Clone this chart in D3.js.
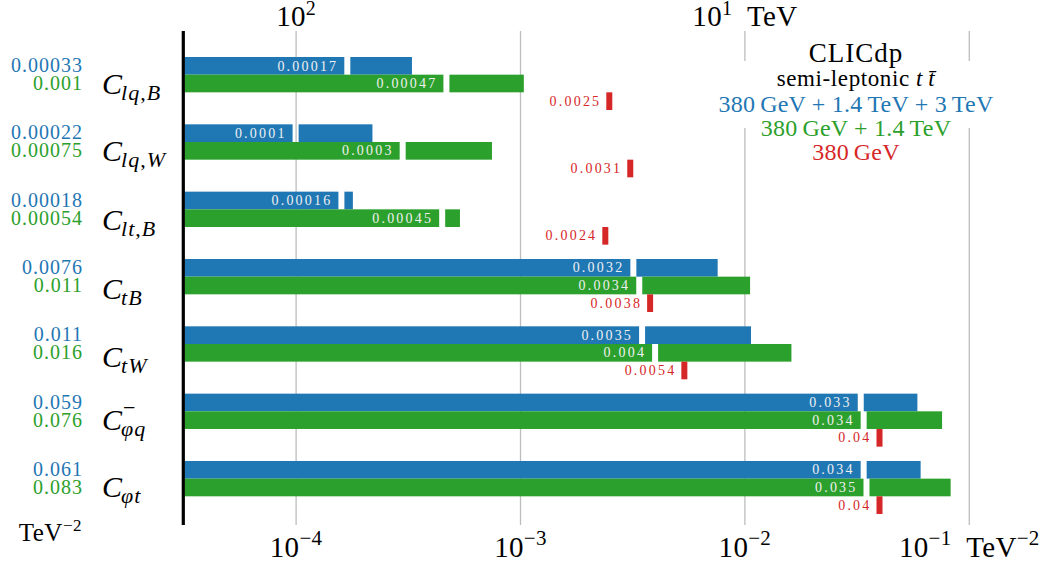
<!DOCTYPE html>
<html><head><meta charset="utf-8">
<script src="https://cdn.jsdelivr.net/npm/d3@7"></script>
<style>
body{margin:0;background:#fff}
svg{display:block}
svg text{font-family:"Liberation Serif","Times New Roman",serif}
</style>
</head><body>
<svg id="c" width="1050" height="567" font-family="'Liberation Serif', 'Times New Roman', serif"></svg>
<script>
// ---------- data ----------
const categories = ["lq,B", "lq,W", "lt,B", "tB", "tW", "φq", "φt"];
const categorySup = ["", "", "", "", "", "−", ""];
// 380 GeV + 1.4 TeV + 3 TeV (blue): full reach and inner mark
const blueFull  = [0.00033, 0.00022, 0.00018, 0.0076, 0.0107, 0.059, 0.061];
const blueInner = [0.00017, 0.0001, 0.00016, 0.0032, 0.0035, 0.033, 0.034];
// 380 GeV + 1.4 TeV (green)
const greenFull  = [0.00104, 0.00075, 0.00054, 0.0106, 0.0162, 0.076, 0.083];
const greenInner = [0.00047, 0.0003, 0.00045, 0.0034, 0.004, 0.034, 0.035];
// 380 GeV (red)
const redValues = [0.0025, 0.0031, 0.0024, 0.0038, 0.0054, 0.04, 0.04];
const bottomTicks = [1e-4, 1e-3, 1e-2, 1e-1];
const bottomTickExp = ["−4", "−3", "−2", "−1"];
const topTicks = [100, 10];
const topTickExp = ["2", "1"];
const legendLines = ["380\u2009GeV + 1.4\u2009TeV + 3\u2009TeV", "380\u2009GeV + 1.4\u2009TeV", "380\u2009GeV"];

// ---------- style ----------
const colors = {blue: "#1f77b4", green: "#2ca02c", red: "#d62728"};
const fmt = d3.format(".2~r");

const svg = d3.select("#c");
const x = d3.scaleLog().domain([1e-4, 1e-1]).range([295.6, 968.8]);
const lam = d3.scaleLog().domain([100, 10]).range([x(1e-4), x(1e-2)]);
const y = d3.scaleBand().domain(categories).range([57, 57 + 7 * 67.33]);
const sub = d3.scaleBand().domain(["b", "g", "r"]).range([0, 53]);
const xLeft = 184.5;
const plotTop = 31, plotBottom = 525;
const gapHalf = 3;

// gridlines
svg.append("g")
  .attr("transform", `translate(0,${plotBottom})`)
  .call(d3.axisBottom(x).tickValues(bottomTicks).tickSize(-(plotBottom - plotTop)).tickFormat(""))
  .call(g => g.select(".domain").remove())
  .call(g => g.selectAll("line").attr("stroke", "#bdbdbd").attr("stroke-width", 1.3));

// legend white box
svg.append("rect").attr("x", 700).attr("y", 61).attr("width", 310).attr("height", 67).attr("fill", "#fff");

// bottom tick labels
svg.append("g")
  .attr("transform", `translate(0,${plotBottom})`)
  .call(d3.axisBottom(x).tickValues(bottomTicks).tickSize(0).tickFormat(""))
  .call(g => g.select(".domain").remove())
  .call(g => g.selectAll(".tick").each(function(d, i) {
    const t = d3.select(this).append("text").attr("y", 32).attr("fill", "#000")
      .attr("text-anchor", "middle").style("font-size", "29px").style("letter-spacing", "0.3px");
    t.append("tspan").text("10");
    t.append("tspan").attr("dy", -12).style("font-size", "21px").text(bottomTickExp[i]);
    if (i === bottomTicks.length - 1) {
      t.append("tspan").attr("dy", 12).text("\u2002TeV");
      t.append("tspan").attr("dy", -12).style("font-size", "21px").text("−2");
    }
  }));

// top tick labels
svg.append("g")
  .attr("transform", `translate(0,${plotTop})`)
  .call(d3.axisTop(lam).tickValues(topTicks).tickSize(0).tickFormat(""))
  .call(g => g.select(".domain").remove())
  .call(g => g.selectAll(".tick").each(function(d, i) {
    const t = d3.select(this).append("text").attr("y", -5).attr("fill", "#000")
      .attr("text-anchor", "middle").style("font-size", "29px").style("letter-spacing", "0.3px");
    t.append("tspan").text("10");
    t.append("tspan").attr("dy", -11).style("font-size", "20px").text(topTickExp[i]);
    if (i === topTicks.length - 1) {
      t.append("tspan").attr("dy", 11).text("\u2002TeV");
    }
  }));

// bars
function drawBar(vals, inner, key, color) {
  const g = svg.append("g");
  categories.forEach((c, i) => {
    const y0 = y(c) + sub(key), h = sub.bandwidth();
    const xi = x(inner[i]);
    g.append("rect").attr("x", xLeft).attr("y", y0).attr("width", xi - gapHalf - xLeft).attr("height", h).attr("fill", color);
    g.append("rect").attr("x", xi + gapHalf).attr("y", y0).attr("width", Math.max(0, x(vals[i]) - xi - gapHalf)).attr("height", h).attr("fill", color);
    g.append("text").attr("x", xi - gapHalf - 6).attr("y", y0 + 13.5).attr("text-anchor", "end")
      .attr("fill", "#f0f0f0").style("font-size", "14px").style("letter-spacing", "2.2px").text(fmt(inner[i]));
  });
}
drawBar(blueFull, blueInner, "b", colors.blue);
drawBar(greenFull, greenInner, "g", colors.green);

const rg = svg.append("g");
categories.forEach((c, i) => {
  const y0 = y(c) + sub("r"), h = sub.bandwidth();
  const xv = x(redValues[i]);
  rg.append("rect").attr("x", xv - 3).attr("y", y0).attr("width", 6).attr("height", h).attr("fill", colors.red);
  rg.append("text").attr("x", xv - 3 - 5).attr("y", y0 + 13.5).attr("text-anchor", "end")
    .attr("fill", colors.red).style("font-size", "14px").style("letter-spacing", "2.2px").text(fmt(redValues[i]));
});

// left axis line
svg.append("line").attr("x1", 183.3).attr("x2", 183.3).attr("y1", plotTop).attr("y2", plotBottom)
  .attr("stroke", "#000").attr("stroke-width", 3.2);

// left value labels
categories.forEach((c, i) => {
  svg.append("text").attr("x", 83).attr("y", y(c) + 15).attr("text-anchor", "end")
    .attr("fill", colors.blue).style("font-size", "20px").style("letter-spacing", "1px").text(fmt(blueFull[i]));
  svg.append("text").attr("x", 83).attr("y", y(c) + 33).attr("text-anchor", "end")
    .attr("fill", colors.green).style("font-size", "20px").style("letter-spacing", "1px").text(fmt(greenFull[i]));
});

// category labels C_{...}: vertically centred on their ink box like the original
categories.forEach((c, i) => {
  const hasDesc = /[qφpgy]/.test(c);
  const hasComma = c.includes(",");
  const base = y(c) + 31 + (hasDesc ? 5.5 : (hasComma ? 7.5 : 9.5));
  const ct = svg.append("text").attr("x", 102).attr("y", base).style("font-size", "30px")
    .style("font-style", "italic").text("C");
  const w = ct.node().getComputedTextLength();
  const st = svg.append("text").attr("x", 102 + w - 1).attr("y", base + 6).style("font-size", "22px")
    .style("letter-spacing", "1px");
  for (const ch of c) {
    st.append("tspan").style("font-style", ch === "," ? "normal" : "italic").text(ch);
  }
  if (categorySup[i]) {
    svg.append("text").attr("x", 102 + w + 1).attr("y", base - 15).style("font-size", "22px").text(categorySup[i]);
  }
});

// left unit
const lu = svg.append("text").attr("x", 82).attr("y", 541).attr("text-anchor", "end").style("font-size", "25px")
  .style("letter-spacing", "0.5px");
lu.append("tspan").text("TeV");
lu.append("tspan").attr("dy", -10).style("font-size", "17px").text("−2");

// legend
const lx = 856;
svg.append("text").attr("x", lx).attr("y", 62).attr("text-anchor", "middle").style("font-size", "27px")
  .style("letter-spacing", "1px").text("CLICdp");
const sl = svg.append("text").attr("x", lx).attr("y", 86).attr("text-anchor", "middle").style("font-size", "23px")
  .style("letter-spacing", "0.6px");
sl.append("tspan").text("semi-leptonic ");
sl.append("tspan").style("font-style", "italic").text("t\u2009t\u0304");
const legColors = [colors.blue, colors.green, colors.red];
legendLines.forEach((t, i) => {
  svg.append("text").attr("x", lx).attr("y", 112 + i * 24).attr("text-anchor", "middle")
    .attr("fill", legColors[i]).style("font-size", "24px").style("letter-spacing", "0.2px").text(t);
});
</script>
</body></html>
